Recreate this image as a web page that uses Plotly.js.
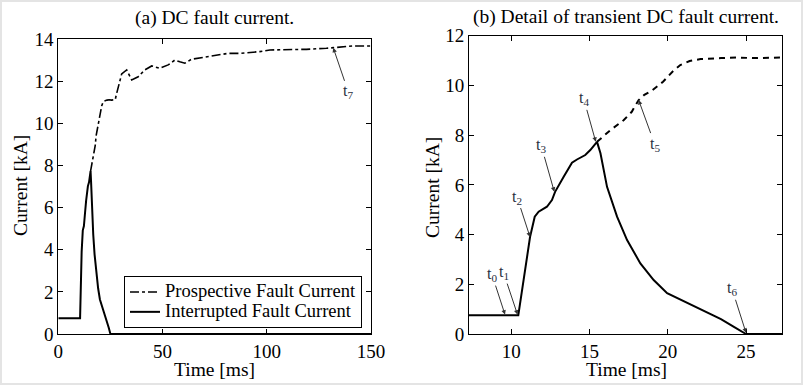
<!DOCTYPE html>
<html>
<head>
<meta charset="utf-8">
<script src="https://cdn.plot.ly/plotly-3.0.1.min.js"></script>
<style>
  html, body { margin: 0; padding: 0; background: #ffffff; }
  #chart { width: 803px; height: 385px; }
</style>
</head>
<body>
<div id="chart"></div>
<script>
// ---- Data ----
// Interrupted fault current (time in ms, current in kA)
const timeInterrupted = [0, 10.45, 11.2, 11.5, 11.75, 12.28, 12.6, 12.8, 13.35, 13.88, 14.2, 14.73, 15.05, 15.48,
  15.7, 16.12, 16.76, 17.4, 18.25, 19.1, 19.96, 22.1, 23.4, 24.2, 25.0, 150];
const currentInterrupted = [0.75, 0.75, 3.9, 4.72, 4.92, 5.12, 5.39, 5.72, 6.33, 6.89, 7.02, 7.2, 7.4, 7.73,
  7.27, 5.92, 4.72, 3.78, 2.84, 2.17, 1.64, 1.0, 0.6, 0.3, 0.0, 0.0];

// Prospective fault current (continues from the interruption point)
const timeProspective = [15.48, 16.33, 17.18, 17.7, 18.14, 18.5, 19.0, 19.7, 20.3, 20.8, 21.4, 22.1, 23.4, 24.4, 25.5, 27.3,
  28, 30.4, 32.8, 35.2, 38.3, 41.5, 44.8, 48.7, 52.7, 55.9, 58.3, 60.7, 63.9, 71.1, 75.9, 81.5, 87, 96.6,
  101.5, 109.5, 119, 128.6, 132.6, 141.4, 150];
const currentProspective = [7.73, 8.2, 8.6, 8.94, 9.41, 9.62, 9.8, 10.15, 10.55, 10.82, 10.98, 11.06, 11.1, 11.12, 11.1, 11.12,
  11.42, 12.34, 12.53, 12.06, 12.21, 12.53, 12.72, 12.61, 12.77, 13.0, 12.92, 12.85, 13.04, 13.16, 13.24, 13.32, 13.32, 13.4,
  13.48, 13.48, 13.51, 13.56, 13.6, 13.67, 13.67];

// Tick values
const xTicksA = [0, 50, 100, 150];
const yTicksA = [0, 2, 4, 6, 8, 10, 12, 14];
const xTicksB = [10, 15, 20, 25];
const yTicksB = [0, 2, 4, 6, 8, 10, 12];

// Event markers
const eventLabelsB = ["t<sub>0</sub>", "t<sub>1</sub>", "t<sub>2</sub>", "t<sub>3</sub>", "t<sub>4</sub>", "t<sub>5</sub>", "t<sub>6</sub>"];
const eventTimesB = [9.6, 10.4, 11.2, 12.75, 15.4, 18.14, 25.0];
const eventCurrentsB = [0.78, 0.78, 3.9, 5.72, 7.73, 9.41, 0.05];
const eventLabelsA = ["t<sub>7</sub>"];
const eventTimesA = [131.9];
const eventCurrentsA = [13.58];

// Texts
const titleA = '(a) DC fault current.';
const titleB = '(b) Detail of transient DC fault current.';
const xTitle = 'Time [ms]';
const yTitle = 'Current [kA]';
const seriesNames = ['Prospective Fault Current', 'Interrupted Fault Current'];

// ---- Styling ----
const FONT = "Liberation Serif";
const W = 803, H = 385;
const px = v => v / W;
const py = v => (H - v) / H;
const legendName = s => '<span style="font-size:18.5px">' + s + '</span>';

const traces = [
  {x: timeProspective, y: currentProspective, xaxis: 'x', yaxis: 'y', mode: 'lines',
   name: legendName(seriesNames[0]), line: {color: '#000', width: 1.6, dash: 'dashdot'}},
  {x: timeInterrupted, y: currentInterrupted, xaxis: 'x', yaxis: 'y', mode: 'lines',
   name: legendName(seriesNames[1]), line: {color: '#000', width: 2}},
  {x: timeProspective, y: currentProspective, xaxis: 'x2', yaxis: 'y2', mode: 'lines',
   showlegend: false, line: {color: '#000', width: 2, dash: '6px,5px'}},
  {x: timeInterrupted, y: currentInterrupted, xaxis: 'x2', yaxis: 'y2', mode: 'lines',
   showlegend: false, line: {color: '#000', width: 2}}
];

function axisCommon() {
  return {
    showline: true, linecolor: '#000', linewidth: 1, mirror: 'ticks',
    ticks: 'inside', ticklen: 5, tickcolor: '#000', tickwidth: 1,
    showgrid: false, zeroline: false,
    tickfont: {family: FONT, size: 19, color: '#000'},
    tickmode: 'array'
  };
}

const arrowAnn = (label, x, y, xref, yref, ax, ay) => ({
  x: x, y: y, xref: xref, yref: yref, text: label, showarrow: true,
  ax: ax, ay: ay, arrowhead: 2, arrowsize: 0.9, arrowwidth: 1, arrowcolor: '#333',
  font: {family: FONT, size: 16, color: '#2a3040'}, standoff: 0
});

const offsB = [[-13, -40], [-14, -42], [-13, -40], [-13, -46], [-12, -43], [16, 44], [-14, -44]];
const annotations = [];
eventLabelsB.forEach((l, i) => annotations.push(arrowAnn(l, eventTimesB[i], eventCurrentsB[i], 'x2', 'y2', offsB[i][0], offsB[i][1])));
eventLabelsA.forEach((l, i) => annotations.push(arrowAnn(l, eventTimesA[i], eventCurrentsA[i], 'x', 'y', 15, 44)));

const textAnn = (text, x, y, size, angle) => ({text: text, xref: 'paper', yref: 'paper', x: px(x), y: py(y),
  xanchor: 'center', yanchor: 'middle', showarrow: false, textangle: angle || 0,
  font: {family: FONT, size: size, color: '#000'}});

annotations.push(textAnn(titleA, 214.5, 18, 19.5));
annotations.push(textAnn(titleB, 626, 17, 19.5));
annotations.push(textAnn(xTitle, 214.5, 369, 19.5));
annotations.push(textAnn(xTitle, 626, 369, 19.5));
annotations.push(textAnn(yTitle, 20, 186, 19.5, -90));
annotations.push(textAnn(yTitle, 432, 188, 19.5, -90));

const layout = {
  width: W, height: H,
  margin: {l: 0, r: 0, t: 0, b: 0},
  paper_bgcolor: '#fff', plot_bgcolor: '#fff',
  showlegend: true,
  xaxis: Object.assign(axisCommon(), {domain: [px(58.3), px(371)], range: [0, 150], tickvals: xTicksA, anchor: 'y'}),
  yaxis: Object.assign(axisCommon(), {domain: [py(334), py(39)], range: [0, 14], tickvals: yTicksA, anchor: 'x'}),
  xaxis2: Object.assign(axisCommon(), {domain: [px(469), px(782)], range: [7.3, 27.3], tickvals: xTicksB, anchor: 'y2'}),
  yaxis2: Object.assign(axisCommon(), {domain: [py(334), py(35.7)], range: [0, 12], tickvals: yTicksB, anchor: 'x2'}),
  legend: {x: px(362), y: py(328), xanchor: 'right', yanchor: 'bottom', bgcolor: '#fff',
    bordercolor: '#000', borderwidth: 1, font: {family: FONT, size: 13, color: '#000'},
    tracegroupgap: 0, itemwidth: 30},
  annotations: annotations,
  shapes: [{type: 'rect', xref: 'paper', yref: 'paper', x0: 0, x1: 1, y0: 0, y1: 1,
    line: {color: '#e4e4e4', width: 4}, layer: 'below'}]
};

Plotly.newPlot('chart', traces, layout, {displayModeBar: false, staticPlot: true});
</script>
</body>
</html>
